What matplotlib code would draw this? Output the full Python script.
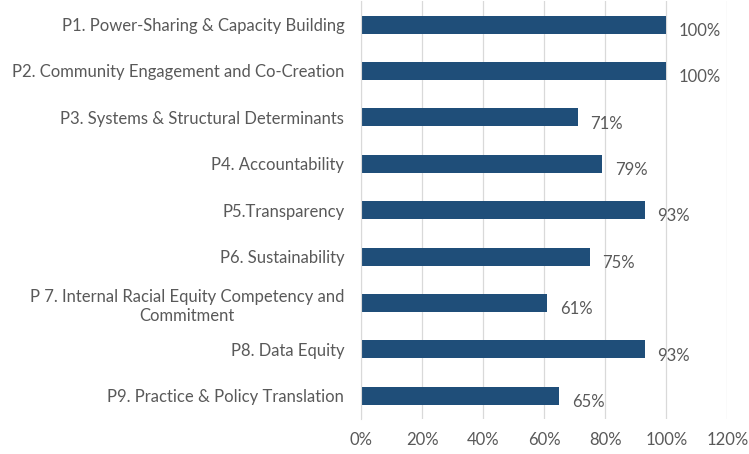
import matplotlib.pyplot as plt
from matplotlib.ticker import PercentFormatter

labels = [
    "P1. Power-Sharing & Capacity Building",
    "P2. Community Engagement and Co-Creation",
    "P3. Systems & Structural Determinants",
    "P4. Accountability",
    "P5.Transparency",
    "P6. Sustainability",
    "P 7. Internal Racial Equity Competency and\nCommitment",
    "P8. Data Equity",
    "P9. Practice & Policy Translation",
]
values = [100, 100, 71, 79, 93, 75, 61, 93, 65]
xticks = [0, 20, 40, 60, 80, 100, 120]

plt.rcParams['font.family'] = ['Lato', 'DejaVu Sans']
txt = '#595959'
fs = 12

fig = plt.figure(figsize=(7.49, 4.54), dpi=100)
ax = fig.add_axes([0.482, 0.077, 0.489, 0.92])

y = list(range(len(labels)))
ax.barh(y, values, height=0.39, color='#1F4E79', zorder=3)
ax.set_yticks(y)
ax.set_yticklabels(labels, fontsize=fs, color=txt, multialignment='center',
                   linespacing=1.25)
ax.set_ylim(len(labels) - 0.5, -0.5)
ax.set_xlim(0, 120)
ax.set_xticks(xticks)
ax.xaxis.set_major_formatter(PercentFormatter(decimals=0))
ax.tick_params(axis='x', labelsize=fs, colors=txt, length=0, pad=9)
ax.tick_params(axis='y', length=0, pad=12)
ax.grid(axis='x', color='#D9D9D9', linewidth=0.9, zorder=0)

for s in ['top', 'right', 'bottom']:
    ax.spines[s].set_visible(False)
ax.spines['left'].set_color('#D9D9D9')
ax.spines['left'].set_zorder(4)

for yi, v in zip(y, values):
    ax.annotate(f"{v}%", (v, yi), xytext=(9, -4.5), textcoords='offset points',
                ha='left', va='center', fontsize=fs, color=txt)

fig.savefig("out.png", dpi=100)
